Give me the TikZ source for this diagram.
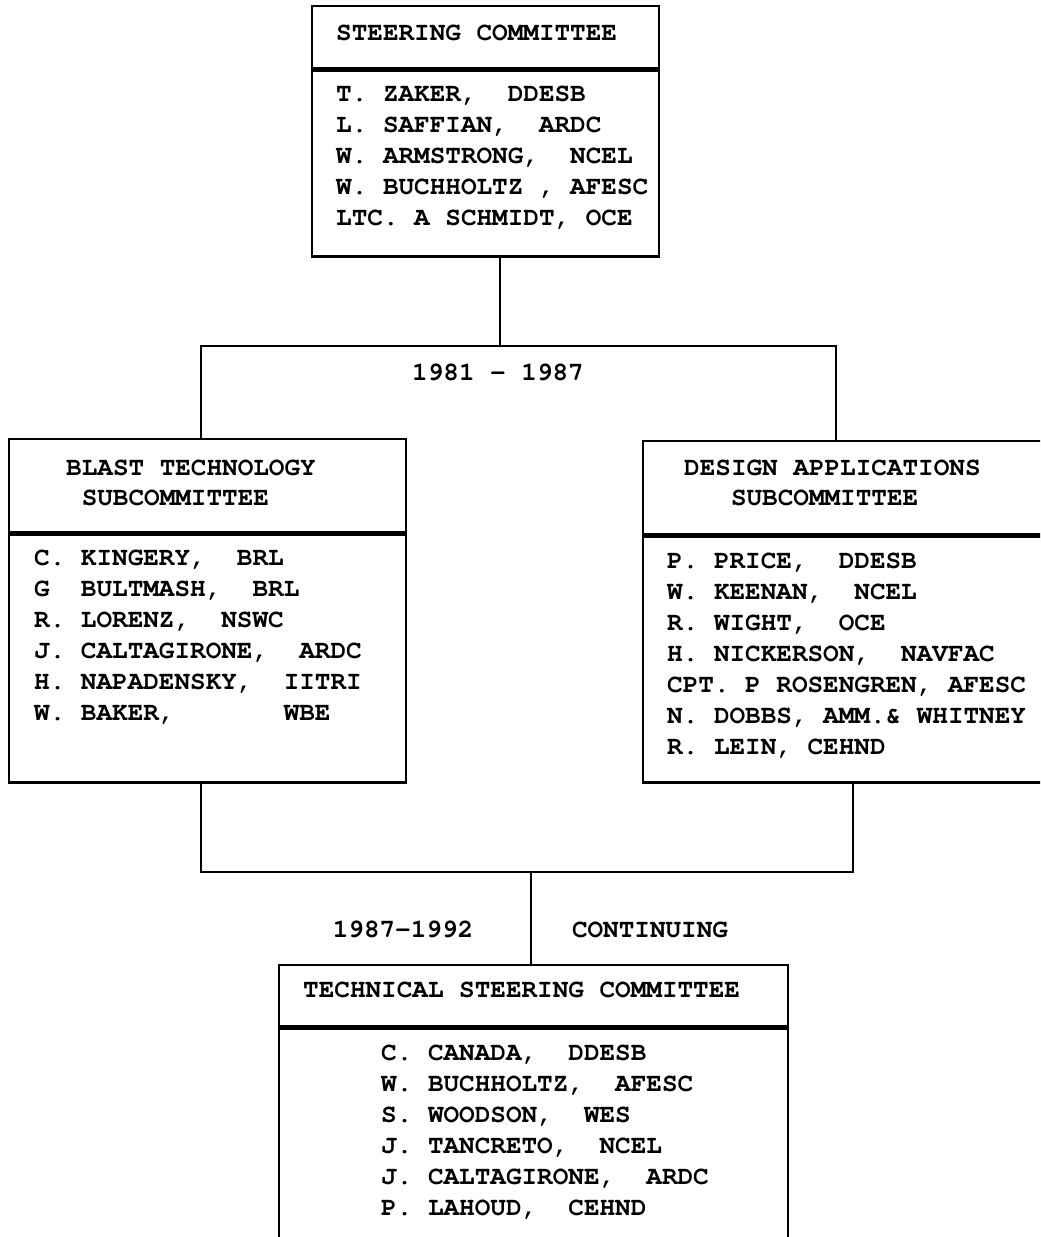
\documentclass[tikz,border=0pt]{standalone}
\usepackage[T1]{fontenc}
\usepackage{courier}
\renewcommand{\familydefault}{\ttdefault}
\usetikzlibrary{positioning}

\begin{document}
\frenchspacing
\begin{tikzpicture}[x=0.5pt, y=-0.5pt,
		head/.style={draw, line width=1.2pt, anchor=north west, inner xsep=0pt, align=left, font=\fontsize{13}{15}\selectfont\bfseries},
		roll/.style={draw, line width=1.2pt, anchor=north, inner xsep=0pt, align=left, font=\fontsize{13}{15.5}\selectfont\bfseries},
		link/.style={line width=1.2pt},
		tag/.style={font=\fontsize{13}{15.5}\selectfont\bfseries}]
		\useasboundingbox (0,0) rectangle (1040,1237);
		\clip (0,0) rectangle (1040,1237);
		\node[head, text width=173.5pt, minimum height=31pt] (steerhead) at (311,5) {\leftskip=12pt\spaceskip=7.8pt\relax STEERING COMMITTEE\\[-11pt]
			\mbox{}};
		\node[roll, text width=173.5pt, minimum height=93pt] (steerroll) at (steerhead.south) {\leftskip=12pt\spaceskip=7.8pt\relax T. ZAKER,~~DDESB\\
			L. SAFFIAN,~~ARDC\\
			W. ARMSTRONG,~~NCEL\\
			W. BUCHHOLTZ , AFESC\\
			LTC. A SCHMIDT, OCE\\[-7.5pt]
			\mbox{}};
		\node[head, text width=198.5pt, minimum height=46.5pt] (blasthead) at (8,438) {\leftskip=28.5pt\spaceskip=7.8pt\relax BLAST TECHNOLOGY\\
			\hspace*{7.8pt}SUBCOMMITTEE\\[-12pt]
			\mbox{}};
		\node[roll, text width=198.5pt, minimum height=124pt] (blastroll) at (blasthead.south) {\leftskip=12.5pt\spaceskip=7.8pt\relax C. KINGERY,~~BRL\\
			G~~BULTMASH,~~BRL\\
			R. LORENZ,~~NSWC\\
			J. CALTAGIRONE,~~ARDC\\
			H. NAPADENSKY,~~IITRI\\
			W. BAKER,~~~~~~~WBE\\[8pt]
			\mbox{}};
		\node[head, text width=210pt, minimum height=46.5pt] (designhead) at (642,440) {\leftskip=20.5pt\spaceskip=7.8pt\relax DESIGN APPLICATIONS\\
			\hspace*{23.4pt}SUBCOMMITTEE\\[-10.5pt]
			\mbox{}};
		\node[roll, text width=210pt, minimum height=123pt] (designroll) at (designhead.south) {\leftskip=12pt\spaceskip=7.8pt\relax P. PRICE,~~DDESB\\
			W. KEENAN,~~NCEL\\
			R. WIGHT,~~OCE\\
			H. NICKERSON,~~NAVFAC\\
			CPT. P ROSENGREN, AFESC\\
			N. DOBBS, AMM.\& WHITNEY\\
			R. LEIN, CEHND\\[-9.5pt]
			\mbox{}};
		\node[head, text width=254.5pt, minimum height=30.5pt] (techhead) at (278,964) {\leftskip=12pt\spaceskip=7.8pt\relax TECHNICAL STEERING COMMITTEE\\[-9pt]
			\mbox{}};
		\node[roll, text width=254.5pt, minimum height=120.5pt] (techroll) at (techhead.south) {\leftskip=51pt\spaceskip=7.8pt\relax C. CANADA,~~DDESB\\
			W. BUCHHOLTZ,~~AFESC\\
			S. WOODSON,~~WES\\
			J. TANCRETO,~~NCEL\\
			J. CALTAGIRONE,~~ARDC\\
			P. LAHOUD,~~CEHND\\[3.5pt]
			\mbox{}};
		\coordinate (fork) at (500,346);
		\coordinate (merge) at (531,872);
		\draw[link] (steerroll.south -| fork) -- (fork);
		\draw[link] ([xshift=-3.25pt]blasthead.north) |- (fork) -| ([xshift=-8.5pt]designhead.north);
		\draw[link] ([xshift=-3.25pt]blastroll.south) |- (merge) -| (designroll.south);
		\draw[link] (merge) -- (merge |- techhead.north);
		\node[tag] (firstspan) at (498,373) {\spaceskip=7.8pt\relax 1981 - 1987};
		\node[tag] (laterspan) at (403,930) {1987-1992};
		\node[tag] (ongoing) at (650,930) {CONTINUING};
\end{tikzpicture}
\end{document}
